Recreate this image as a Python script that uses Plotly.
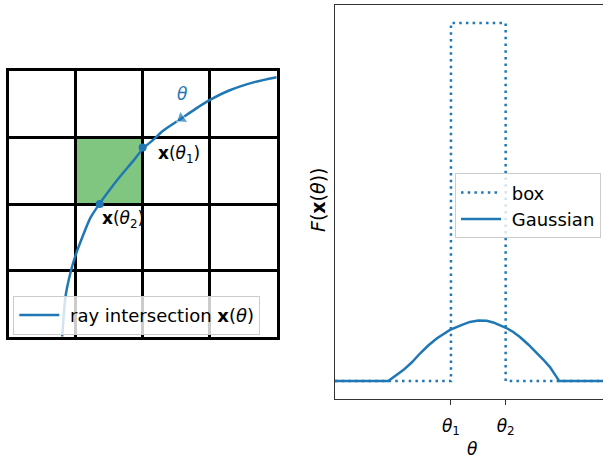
import plotly.graph_objects as go

# ---------------- data ----------------
# left panel: ray path through a 4x4 pixel grid
grid_lines = [1, 2, 3]
ray_x = [4.0, 3.68, 3.29, 2.99, 2.80, 2.58, 2.30, 2.16, 2.01, 1.86, 1.66, 1.49, 1.36, 1.22, 1.10, 1.00, 0.93, 0.85, 0.80]
ray_y = [3.91, 3.84, 3.71, 3.56, 3.44, 3.29, 3.10, 2.97, 2.84, 2.65, 2.41, 2.19, 2.01, 1.79, 1.50, 1.23, 0.99, 0.61, 0.0]
hit_x = [2.0, 1.36]
hit_y = [2.85, 2.0]
hit_labels = ["<b>x</b>(<i>θ</i><sub>1</sub>)", "<b>x</b>(<i>θ</i><sub>2</sub>)"]
arrow_x = [2.80, 2.58]
arrow_y = [3.44, 3.29]
cell_x = [1, 2]
cell_y = [2, 3]

# right panel: footprint functions along theta
theta_ticks = [1, 2]
theta_ticktext = ["<i>θ</i><sub>1</sub>", "<i>θ</i><sub>2</sub>"]
box_theta = [-1.12, 1, 1, 2, 2, 4.0]
box_F = [0, 0, 1, 1, 0, 0]
gauss_theta = [-1.12, -0.146, 0.128, 0.282, 0.433, 0.585, 0.739, 0.859, 0.982, 1.225, 1.347, 1.499,
               1.653, 1.773, 2.005, 2.139, 2.261, 2.413, 2.567, 2.687, 2.810, 2.980, 4.0]
gauss_F = [0, 0, 0.0308, 0.0518, 0.0770, 0.0994, 0.1190, 0.1316, 0.1428, 0.1582, 0.1652, 0.1694,
           0.1686, 0.1638, 0.1489, 0.1372, 0.1232, 0.1022, 0.0798, 0.0602, 0.0392, 0, 0]

BLUE = "#1f77b4"
FONT = "DejaVu Sans"
FS = 18
W, H = 603, 460
GW = 2.5  # grid line width

fig = go.Figure()

# left panel traces
fig.add_trace(go.Scatter(x=ray_x, y=ray_y, mode="lines", line=dict(color=BLUE, width=2.5, shape="spline", smoothing=0.6),
                         name="&nbsp;ray intersection <b>x</b>(<i>θ</i>)", xaxis="x", yaxis="y", legend="legend"))
fig.add_trace(go.Scatter(x=hit_x, y=hit_y, mode="markers", marker=dict(color=BLUE, size=8), showlegend=False,
                         xaxis="x", yaxis="y"))
fig.add_trace(go.Scatter(x=arrow_x, y=arrow_y, mode="markers",
                         marker=dict(color=BLUE, size=[0, 12], symbol="triangle-up", angleref="previous"),
                         showlegend=False, xaxis="x", yaxis="y"))

# right panel traces
fig.add_trace(go.Scatter(x=box_theta, y=box_F, mode="lines", line=dict(color=BLUE, width=2.5, dash="2.5px,4.2px"),
                         name="&nbsp;box", xaxis="x2", yaxis="y2", legend="legend2"))
fig.add_trace(go.Scatter(x=gauss_theta, y=gauss_F, mode="lines", line=dict(color=BLUE, width=2.5),
                         name="&nbsp;Gaussian", xaxis="x2", yaxis="y2", legend="legend2"))

# green cell (under grid lines)
fig.add_shape(type="rect", xref="x", yref="y", x0=cell_x[0], x1=cell_x[1], y0=cell_y[0], y1=cell_y[1],
              fillcolor="rgba(44,160,44,0.6)", line=dict(width=0), layer="below")

annotations = [
    dict(x=2.60, y=3.66, xref="x", yref="y", text="<i>θ</i>", showarrow=False, xanchor="center", yanchor="middle",
         font=dict(color=BLUE, size=17, family=FONT)),
    dict(x=2.20, y=2.74, xref="x", yref="y", text=hit_labels[0], showarrow=False, xanchor="left", yanchor="middle",
         font=dict(color="black", size=17, family=FONT)),
    dict(x=1.36, y=1.76, xref="x", yref="y", text=hit_labels[1], showarrow=False, xanchor="left", yanchor="middle",
         font=dict(color="black", size=17, family=FONT)),
    dict(x=318 / W, y=1 - 200 / H, xref="paper", yref="paper", text="<i>F</i>(<b>x</b>(<i>θ</i>))",
         textangle=-90, showarrow=False, xanchor="center", yanchor="middle",
         font=dict(color="black", size=19, family=FONT)),
    dict(x=472 / W, y=1 - 449 / H, xref="paper", yref="paper", text="<i>θ</i>",
         showarrow=False, xanchor="center", yanchor="middle", font=dict(color="black", size=17, family=FONT)),
]

half = GW / 2
grid_axis = dict(range=[0, 4], tickvals=grid_lines, showticklabels=False, ticks="",
                 showgrid=True, gridcolor="black", gridwidth=GW, zeroline=False,
                 showline=True, mirror=True, linecolor="black", linewidth=GW)

fig.update_layout(
    width=W, height=H,
    margin=dict(l=0, r=0, t=0, b=0),
    paper_bgcolor="white", plot_bgcolor="white",
    font=dict(family=FONT, size=FS, color="black"),
    xaxis=dict(domain=[(7.3 + half) / W, (278 - half) / W], **grid_axis),
    yaxis=dict(domain=[1 - (338 - half) / H, 1 - (70 + half) / H], **grid_axis),
    xaxis2=dict(domain=[335 / W, 1.0], range=[-1.12, 3.78], tickvals=theta_ticks, ticktext=theta_ticktext,
                ticks="outside", ticklen=5, tickwidth=1.3, tickcolor="#333", showgrid=False, zeroline=False,
                showline=True, mirror=True, linecolor="#333", linewidth=1.3, anchor="y2",
                ticklabelstandoff=6, tickfont=dict(size=17, family=FONT, color="black")),
    yaxis2=dict(domain=[1 - 399 / H, 1 - 5 / H], range=[-0.05, 1.05], showticklabels=False, ticks="",
                showgrid=False, zeroline=False, showline=True, mirror=False, linecolor="#333", linewidth=1.3,
                anchor="x2"),
    legend=dict(x=13.3 / W, y=1 - 295.7 / H, xanchor="left", yanchor="top", bgcolor="rgba(255,255,255,0.8)",
                bordercolor="#cccccc", borderwidth=1, font=dict(size=FS, family=FONT), itemwidth=40),
    legend2=dict(x=455 / W, y=1 - 173.3 / H, xanchor="left", yanchor="top", bgcolor="rgba(255,255,255,0.8)",
                 bordercolor="#cccccc", borderwidth=1, font=dict(size=FS, family=FONT), itemwidth=40,
                 tracegroupgap=0),
    annotations=annotations,
)

fig.write_html("out.html", config={"displayModeBar": False},
               post_script="document.body.style.margin='0';document.body.style.overflow='hidden';")
